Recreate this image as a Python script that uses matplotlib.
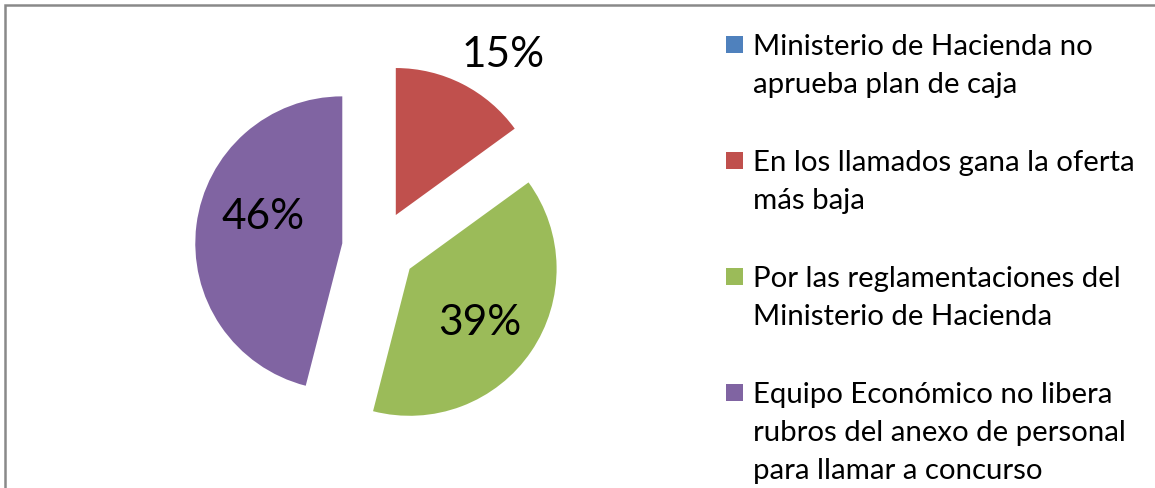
import math

import matplotlib
matplotlib.use("Agg")
import matplotlib.pyplot as plt
from matplotlib.patches import Rectangle


CATEGORIES = [
    "Ministerio de Hacienda no\naprueba plan de caja",
    "En los llamados gana la oferta\nmás baja",
    "Por las reglamentaciones del\nMinisterio de Hacienda",
    "Equipo Económico no libera\nrubros del anexo de personal\npara llamar a concurso",
]
SHARES = [0, 15, 39, 46]
COLORS = ["#4F81BD", "#C0504D", "#9BBB59", "#8064A2"]

W, H = 1155, 488
PIE_CENTER = (379, H - 248)
RADIUS = 147
EXPLODE = 37
# label placement: (distance as fraction of radius, angle tweak in degrees)
LABEL_POS = [(0.6, 0), (1.31, -7), (0.60, -3.4), (0.57, -11)]

plt.rcParams["font.family"] = ["Lato", "DejaVu Sans"]

fig = plt.figure(figsize=(W / 100, H / 100), dpi=100)
ax = fig.add_axes([0, 0, 1, 1])
wedges, _ = ax.pie(
    SHARES, colors=COLORS, startangle=90, counterclock=False,
    radius=RADIUS, center=PIE_CENTER, explode=[EXPLODE] * len(SHARES),
    wedgeprops=dict(linewidth=0),
)
ax.set_xlim(0, W)
ax.set_ylim(0, H)
ax.set_aspect("equal")
ax.axis("off")

total = sum(SHARES)
for w, share, (dist, tweak) in zip(wedges, SHARES, LABEL_POS):
    if share == 0:
        continue
    mid = math.radians((w.theta1 + w.theta2) / 2 + tweak)
    cx, cy = w.center
    ax.text(
        cx + dist * RADIUS * math.cos(mid), cy + dist * RADIUS * math.sin(mid),
        f"{round(100 * share / total)}%", ha="center", va="center",
        fontsize=30.5, color="black",
    )

# legend + frame drawn in pixel coordinates (y down)
lg = fig.add_axes([0, 0, 1, 1], facecolor="none")
lg.set_xlim(0, W)
lg.set_ylim(H, 0)
lg.axis("off")
lg.plot([4.5, 4.5, W + 5], [H + 5, 4.5, 4.5], color="#898989", linewidth=1.8,
        solid_joinstyle="miter")

first_baseline = 55
item_gap = 116
line_gap = 38
for i, (label, color) in enumerate(zip(CATEGORIES, COLORS)):
    base = first_baseline + i * item_gap
    lg.add_patch(Rectangle((726, base - 19), 17, 17, facecolor=color, edgecolor="none"))
    for j, line in enumerate(label.split("\n")):
        lg.text(753, base + j * line_gap, line, ha="left", va="baseline",
                fontsize=21.2, color="black")

fig.savefig("out.png", dpi=100)
